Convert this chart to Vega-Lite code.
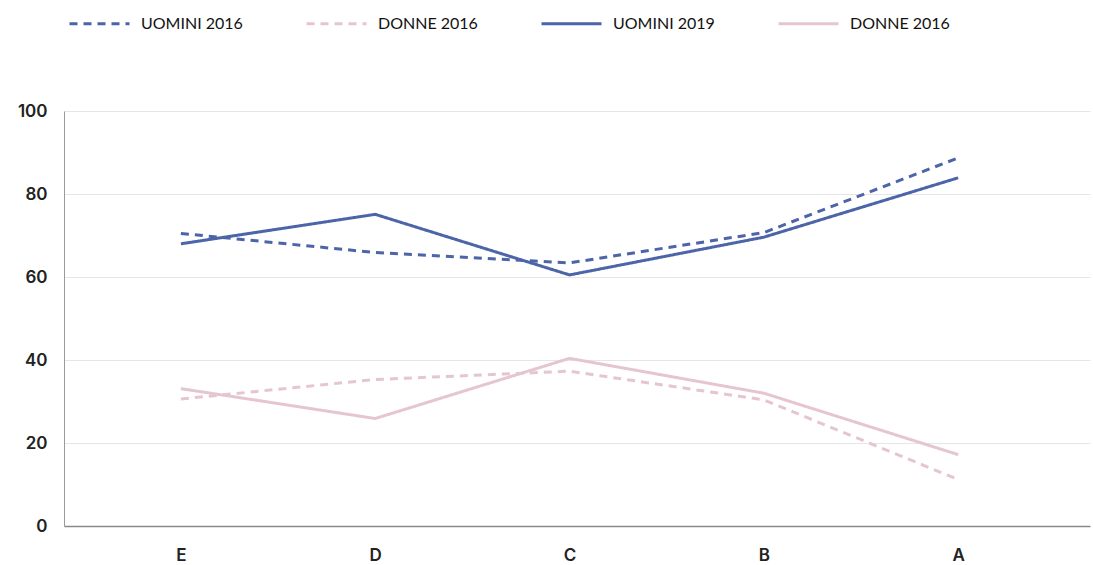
{
  "$schema": "https://vega.github.io/schema/vega-lite/v6.json",
  "width": 1026,
  "height": 415,
  "autosize": {"type": "none"},
  "padding": {"left": 64, "top": 111, "right": 3, "bottom": 39},
  "background": "white",
  "config": {
    "view": {"stroke": null},
    "font": "Inter"
  },
  "data": {
    "values": [
      {"cat": "E", "series": "UOMINI 2016", "value": 70.5},
      {"cat": "D", "series": "UOMINI 2016", "value": 65.9},
      {"cat": "C", "series": "UOMINI 2016", "value": 63.4},
      {"cat": "B", "series": "UOMINI 2016", "value": 70.7},
      {"cat": "A", "series": "UOMINI 2016", "value": 88.7},
      {"cat": "E", "series": "DONNE 2016", "value": 30.6},
      {"cat": "D", "series": "DONNE 2016", "value": 35.3},
      {"cat": "C", "series": "DONNE 2016", "value": 37.3},
      {"cat": "B", "series": "DONNE 2016", "value": 30.4},
      {"cat": "A", "series": "DONNE 2016", "value": 11.2},
      {"cat": "E", "series": "UOMINI 2019", "value": 68.0},
      {"cat": "D", "series": "UOMINI 2019", "value": 75.1},
      {"cat": "C", "series": "UOMINI 2019", "value": 60.5},
      {"cat": "B", "series": "UOMINI 2019", "value": 69.6},
      {"cat": "A", "series": "UOMINI 2019", "value": 83.9},
      {"cat": "E", "series": "DONNE 2019", "value": 33.1},
      {"cat": "D", "series": "DONNE 2019", "value": 25.9},
      {"cat": "C", "series": "DONNE 2019", "value": 40.4},
      {"cat": "B", "series": "DONNE 2019", "value": 32.0},
      {"cat": "A", "series": "DONNE 2019", "value": 17.2}
    ]
  },
  "mark": {"type": "line", "strokeWidth": 3, "strokeCap": "butt"},
  "encoding": {
    "x": {
      "field": "cat",
      "type": "nominal",
      "sort": ["E", "D", "C", "B", "A"],
      "scale": {"type": "point", "padding": 0.64, "align": 0.47},
      "axis": {
        "title": null,
        "labelAngle": 0,
        "ticks": false,
        "grid": false,
        "domainColor": "#8a8a8a",
        "domainWidth": 1.5,
        "labelPadding": 21,
        "labelFontSize": 17,
        "labelFontWeight": 600,
        "labelColor": "#222222"
      }
    },
    "y": {
      "field": "value",
      "type": "quantitative",
      "scale": {"domain": [0, 100], "nice": false},
      "axis": {
        "title": null,
        "values": [0, 20, 40, 60, 80, 100],
        "ticks": false,
        "grid": true,
        "gridColor": "#e6e6e6",
        "gridWidth": 1,
        "domainColor": "#9a9a9a",
        "domainWidth": 1,
        "labelPadding": 17,
        "labelFontSize": 17,
        "labelFontWeight": 600,
        "labelColor": "#222222"
      }
    },
    "color": {
      "field": "series",
      "type": "nominal",
      "title": null,
      "scale": {
        "domain": ["UOMINI 2016", "DONNE 2016", "UOMINI 2019", "DONNE 2019"],
        "range": ["#4c64a8", "#e5c6d0", "#4c64a8", "#e5c6d0"]
      },
      "legend": {
        "orient": "none",
        "legendX": 4,
        "legendY": -119,
        "direction": "horizontal",
        "columns": 4,
        "columnPadding": 57,
        "symbolType": "stroke",
        "symbolSize": 3600,
        "symbolStrokeWidth": 3,
        "labelOffset": 10,
        "labelFontSize": 16,
        "labelFont": "Lato",
        "labelColor": "#111111",
        "labelExpr": "datum.label == 'DONNE 2019' ? 'DONNE 2016' : datum.label"
      }
    },
    "strokeDash": {
      "field": "series",
      "type": "nominal",
      "title": null,
      "scale": {
        "domain": ["UOMINI 2016", "DONNE 2016", "UOMINI 2019", "DONNE 2019"],
        "range": [[8, 6], [8, 6], [1, 0], [1, 0]]
      }
    }
  }
}
